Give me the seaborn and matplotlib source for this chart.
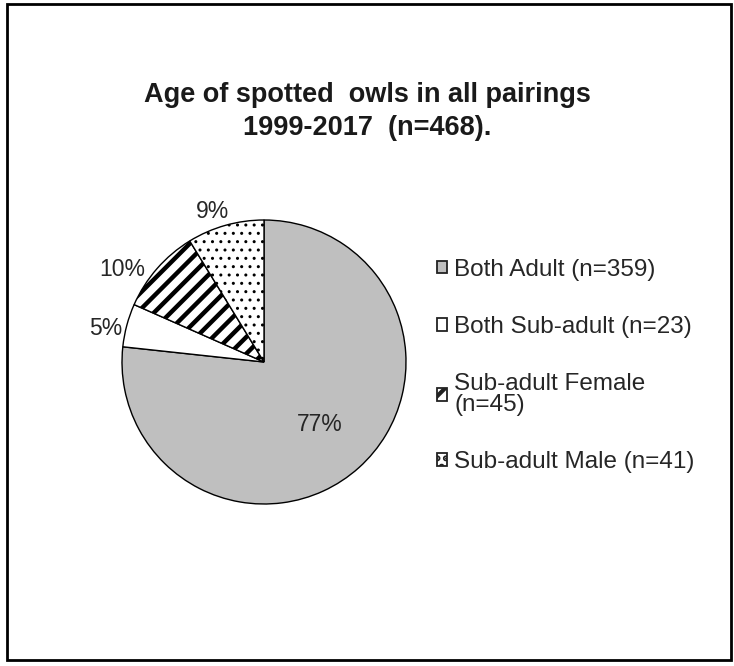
import matplotlib
matplotlib.use("Agg")
import matplotlib.pyplot as plt
import seaborn as sns
import numpy as np
from matplotlib.patches import Patch, Rectangle

sns.set_theme(style="white")
plt.rcParams["font.family"] = ["Liberation Sans", "DejaVu Sans"]
plt.rcParams["hatch.linewidth"] = 3.0

# Pairing categories and their counts
categories = ["Both Adult", "Both Sub-adult", "Sub-adult Female", "Sub-adult Male"]
counts = [359, 23, 45, 41]
legend_labels = ["Both Adult (n=359)", "Both Sub-adult (n=23)",
                 "Sub-adult Female\n(n=45)", "Sub-adult Male (n=41)"]
pct_labels = ["77%", "5%", "10%", "9%"]

face_colors = ["#bfbfbf", "#ffffff", "#ffffff", "#ffffff"]
hatches = [None, None, "//", ".."]
hatch_lw = [None, None, 3.2, 1.0]
label_dist = [0.59, 1.14, 1.19, 1.12]
label_shift = [0, 3, 8, 3]   # degrees

fig = plt.figure(figsize=(7.34, 6.66), dpi=100)
fig.patch.set_facecolor("white")

W, H = 734, 666
cx, cy, r = 264, 362, 142
ax = fig.add_axes([(cx - r) / W, (H - cy - r) / H, 2 * r / W, 2 * r / H])

wedges, _ = ax.pie(counts, startangle=90, counterclock=False, colors=face_colors,
                   wedgeprops=dict(edgecolor="black", linewidth=1.0))
for w, h, lw in zip(wedges, hatches, hatch_lw):
    if h:
        w.set_hatch(h)
        try:
            w.set_hatch_linewidth(lw)
        except AttributeError:
            pass
ax.set_xlim(-1, 1)
ax.set_ylim(-1, 1)
ax.set_aspect("equal")
ax.axis("off")

for w, lab, d, s in zip(wedges, pct_labels, label_dist, label_shift):
    mid = np.deg2rad((w.theta1 + w.theta2) / 2 + s)
    ax.text(d * np.cos(mid), d * np.sin(mid), lab, ha="center", va="center",
            fontsize=16.5, color="#262626")

fig.text(0.5, 1 - 95 / H, "Age of spotted  owls in all pairings", ha="center",
         va="center", fontsize=19.5, fontweight="bold", color="#1a1a1a")
fig.text(0.5, 1 - 128 / H, "1999-2017  (n=468).", ha="center",
         va="center", fontsize=19.5, fontweight="bold", color="#1a1a1a")

handles = []
for fc, h, lw in zip(face_colors, hatches, hatch_lw):
    p = Patch(facecolor=fc, edgecolor="#222222", hatch=h, linewidth=1.3)
    handles.append(p)
leg = fig.legend(handles, legend_labels, loc="upper left",
                 bbox_to_anchor=(415 / W, 1 - 237 / H), frameon=False,
                 fontsize=17.5, handlelength=0.42, handleheight=0.42,
                 handletextpad=0.3, labelspacing=1.45, labelcolor="#262626")
for t in leg.get_texts():
    t.set_linespacing(0.9)

# outer frame
fig.patches.append(Rectangle((7 / W, 6 / H), (731 - 7) / W, (662 - 6) / H,
                             transform=fig.transFigure, fill=False,
                             edgecolor="black", linewidth=2))

fig.savefig("out.png", dpi=100, facecolor="white")
